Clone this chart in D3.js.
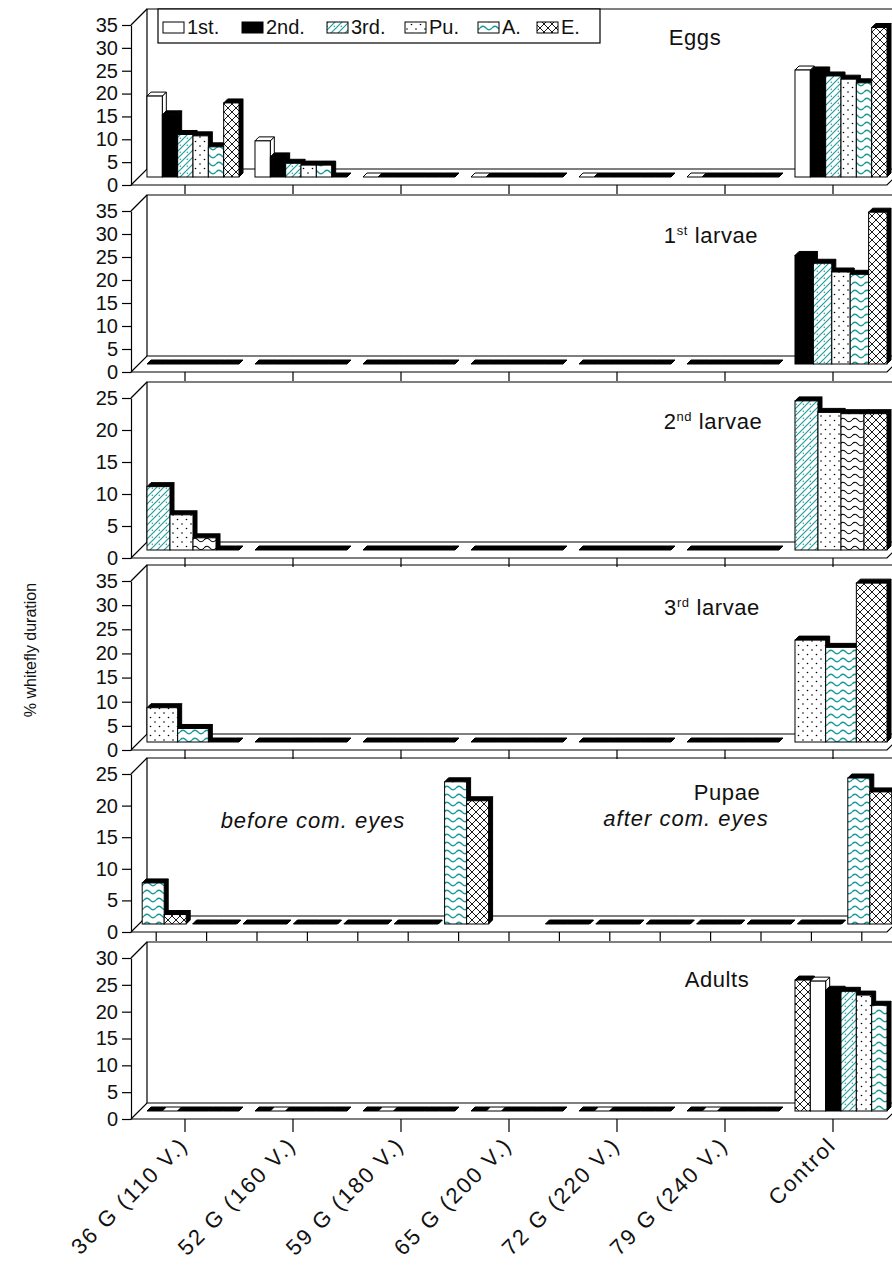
<!DOCTYPE html>
<html>
<head>
<meta charset="utf-8">
<script src="https://cdn.jsdelivr.net/npm/d3@7"></script>
<style>
  body { margin: 0; background: #fff; }
  svg { display: block; font-family: Arial, "Liberation Sans", sans-serif; }
</style>
</head>
<body>
<svg id="chart" width="892" height="1277"></svg>
<script>
// categories on the x axis
var categories = ["36 G (110 V.)", "52 G (160 V.)", "59 G (180 V.)", "65 G (200 V.)", "72 G (220 V.)", "79 G (240 V.)", "Control"];
// pupae panel: before com. eyes, an empty slot, then after com. eyes
var pupaeCategories = ["36 G (110 V.)", "52 G (160 V.)", "59 G (180 V.)", "65 G (200 V.)", "72 G (220 V.)", "79 G (240 V.)", "Control",
  "",
  "36 G (110 V.)", "52 G (160 V.)", "59 G (180 V.)", "65 G (200 V.)", "72 G (220 V.)", "79 G (240 V.)", "Control"];

var legendNames = ["1st.", "2nd.", "3rd.", "Pu.", "A.", "E."];

// Eggs -- one row per series, one value per category
var eggsSeries = ["1st.", "2nd.", "3rd.", "Pu.", "A.", "E."];
var eggsValues = [
  [17.7, 7.9, 0, 0, 0, 0, 23.4],
  [13.6, 4.4, 0, 0, 0, 0, 23.2],
  [9.3, 3.0, 0, 0, 0, 0, 22.1],
  [9.0, 2.6, 0, 0, 0, 0, 21.4],
  [6.6, 2.6, 0, 0, 0, 0, 20.6],
  [16.2, 0, 0, 0, 0, 0, 32.7]
];

// 1st larvae
var larvae1Series = ["2nd.", "3rd.", "Pu.", "A.", "E."];
var larvae1Values = [
  [0, 0, 0, 0, 0, 0, 23.6],
  [0, 0, 0, 0, 0, 0, 21.9],
  [0, 0, 0, 0, 0, 0, 20.0],
  [0, 0, 0, 0, 0, 0, 19.5],
  [0, 0, 0, 0, 0, 0, 33.0]
];

// 2nd larvae
var larvae2Series = ["3rd.", "Pu.", "A.", "E."];
var larvae2Values = [
  [9.9, 0, 0, 0, 0, 0, 23.3],
  [5.5, 0, 0, 0, 0, 0, 21.5],
  [1.9, 0, 0, 0, 0, 0, 21.3],
  [0, 0, 0, 0, 0, 0, 21.3]
];

// 3rd larvae
var larvae3Series = ["Pu.", "A.", "E."];
var larvae3Values = [
  [7.1, 0, 0, 0, 0, 0, 21.1],
  [2.8, 0, 0, 0, 0, 0, 19.6],
  [0, 0, 0, 0, 0, 0, 32.9]
];

// Pupae (null = empty slot between the two groups)
var pupaeSeries = ["A.", "E."];
var pupaeValues = [
  [6.5, 0, 0, 0, 0, 0, 22.5, null, 0, 0, 0, 0, 0, 0, 23.1],
  [1.5, 0, 0, 0, 0, 0, 19.5, null, 0, 0, 0, 0, 0, 0, 20.9]
];

// Adults
var adultsSeries = ["E.", "1st.", "2nd.", "3rd.", "Pu.", "A."];
var adultsValues = [
  [0, 0, 0, 0, 0, 0, 24.4],
  [0, 0, 0, 0, 0, 0, 24.2],
  [0, 0, 0, 0, 0, 0, 22.5],
  [0, 0, 0, 0, 0, 0, 22.3],
  [0, 0, 0, 0, 0, 0, 21.6],
  [0, 0, 0, 0, 0, 0, 19.7]
];

var ticks35 = [0, 5, 10, 15, 20, 25, 30, 35];
var ticks30 = [0, 5, 10, 15, 20, 25, 30];
var ticks25 = [0, 5, 10, 15, 20, 25];

// layout
var X0 = 131, X1 = 887;   // front edge of the floor
var DEP = 16, HD = 8;     // wall depth, bars sit half way back
var BD = 4;               // depth of a single bar
var teal = "#1a9a9a";
var FONT = "Arial, 'Liberation Sans', sans-serif";
var legendX = [163, 242, 327, 405, 478, 537];

var svg = d3.select("#chart");
var defs = svg.append("defs");

function pattern(id, w, h) {
  var p = defs.append("pattern").attr("id", id)
    .attr("patternUnits", "userSpaceOnUse").attr("width", w).attr("height", h);
  p.append("rect").attr("width", w).attr("height", h).attr("fill", "#fff");
  return p;
}
var p1 = pattern("hatch", 7, 7);
p1.append("path").attr("d", "M-1,8 L8,-1 M-1,1 L1,-1 M6,8 L8,6")
  .attr("stroke", teal).attr("stroke-width", 1.1);
p1.append("circle").attr("cx", 5.3).attr("cy", 5.3).attr("r", 0.7).attr("fill", teal);

var p2 = pattern("dots", 9, 9);
p2.append("circle").attr("cx", 2).attr("cy", 2).attr("r", 0.8).attr("fill", "#000");
p2.append("circle").attr("cx", 6.5).attr("cy", 6.5).attr("r", 0.8).attr("fill", "#000");

var p3 = pattern("wavy", 12, 8);
p3.append("path").attr("d", "M0,4 Q3,0.5 6,4 T12,4").attr("fill", "none")
  .attr("stroke", teal).attr("stroke-width", 1.3);

var p4 = pattern("wavyBlack", 12, 8);
p4.append("path").attr("d", "M0,4 Q3,0.5 6,4 T12,4").attr("fill", "none")
  .attr("stroke", "#000").attr("stroke-width", 1.1);

var p5 = pattern("cross", 8, 8);
p5.append("path").attr("d", "M0,0 L8,8 M8,0 L0,8").attr("stroke", "#000").attr("stroke-width", 0.9);

var fills = {"1st.": "#fff", "2nd.": "#000", "3rd.": "url(#hatch)", "Pu.": "url(#dots)", "A.": "url(#wavy)", "E.": "url(#cross)"};

var panels = [
  {series: eggsSeries, values: eggsValues, cats: categories, top: 25, zero: 185, max: 35, ticks: ticks35, title: ["Eggs"], tx: 695, ty: 45},
  {series: larvae1Series, values: larvae1Values, cats: categories, top: 211, zero: 372, max: 35, ticks: ticks35, title: ["1", "st", " larvae"], tx: 711, ty: 243},
  {series: larvae2Series, values: larvae2Values, cats: categories, top: 398, zero: 558, max: 25, ticks: ticks25, title: ["2", "nd", " larvae"], tx: 713, ty: 429, blackA: true},
  {series: larvae3Series, values: larvae3Values, cats: categories, top: 581, zero: 750, max: 35, ticks: ticks35, title: ["3", "rd", " larvae"], tx: 712, ty: 615},
  {series: pupaeSeries, values: pupaeValues, cats: pupaeCategories, top: 774, zero: 932, max: 25, ticks: ticks25, title: ["Pupae"], tx: 727, ty: 800},
  {series: adultsSeries, values: adultsValues, cats: categories, top: 958, zero: 1119, max: 30, ticks: ticks30, title: ["Adults"], tx: 717, ty: 987, last: true}
];

function line(g, d) {
  return g.append("path").attr("d", d).attr("fill", "none").attr("stroke", "#000").attr("stroke-width", 1.2);
}

function drawBar(g, x0, w, yTop, yBase, fill, isWhite) {
  var face = isWhite ? "#fff" : "#000";
  var x1 = x0 + w;
  g.append("path")
    .attr("d", "M" + x1 + "," + yBase + " L" + (x1 + BD) + "," + (yBase - BD) + " L" + (x1 + BD) + "," + (yTop - BD) + " L" + x1 + "," + yTop + " Z")
    .attr("fill", face).attr("stroke", "#000").attr("stroke-width", 1);
  g.append("path")
    .attr("d", "M" + x0 + "," + yTop + " L" + (x0 + BD) + "," + (yTop - BD) + " L" + (x1 + BD) + "," + (yTop - BD) + " L" + x1 + "," + yTop + " Z")
    .attr("fill", face).attr("stroke", "#000").attr("stroke-width", 1);
  if (yBase - yTop > 0.5) {
    g.append("rect").attr("x", x0).attr("y", yTop).attr("width", w).attr("height", yBase - yTop)
      .attr("fill", fill).attr("stroke", "#000").attr("stroke-width", 1);
  }
}

function drawPanel(cfg) {
  var g = svg.append("g");
  var n = cfg.cats.length;
  var pad = n > 7 ? 0.127 : 0.148;
  var xFront = d3.scaleBand().domain(d3.range(n)).range([X0, X1]);
  var xBar = d3.scaleBand().domain(d3.range(n)).range([X0 + HD, X1 + HD])
    .paddingInner(pad).paddingOuter(pad / 2);
  var xs = d3.scaleBand().domain(cfg.series).range([0, xBar.bandwidth()]);
  var y = d3.scaleLinear().domain([0, cfg.max]).range([cfg.zero, cfg.top]);
  var backTop = cfg.top - DEP, backBot = cfg.zero - DEP;

  // walls and floor
  line(g, "M" + (X0 + DEP) + "," + backBot + " V" + backTop + " H900");
  line(g, "M" + X0 + "," + cfg.top + " L" + (X0 + DEP) + "," + backTop);
  line(g, "M" + X0 + "," + cfg.zero + " L" + (X0 + DEP) + "," + backBot + " H900");
  line(g, "M" + X0 + "," + cfg.zero + " H" + X1 + " L" + (X1 + DEP) + "," + backBot);

  // bars, left to right so each front face hides the neighbour's side
  var bars = g.append("g");
  d3.range(n).forEach(function(i) {
    cfg.series.forEach(function(s, k) {
      var v = cfg.values[k][i];
      if (v === null) return;
      var fill = fills[s];
      if (s === "A." && cfg.blackA) fill = "url(#wavyBlack)";
      drawBar(bars, xBar(i) + xs(s), xs.bandwidth(), y(v) - HD, cfg.zero - HD, fill, s === "1st.");
    });
  });

  // value axis on the front left edge
  var ya = g.append("g").attr("transform", "translate(" + X0 + ",0)")
    .call(d3.axisLeft(y).tickValues(cfg.ticks).tickSize(9).tickSizeOuter(0).tickPadding(4));
  ya.select(".domain").attr("stroke", "#000").attr("stroke-width", 1.2);
  ya.selectAll(".tick line").attr("stroke", "#000").attr("stroke-width", 1.2);
  ya.selectAll("text").attr("font-size", 20).attr("font-family", FONT).attr("fill", "#111");

  // category ticks under the floor
  var xa = g.append("g").attr("transform", "translate(0," + cfg.zero + ")")
    .call(d3.axisBottom(xFront).tickSize(cfg.last ? 13 : 9).tickSizeOuter(0)
      .tickFormat(function(i) { return cfg.last ? cfg.cats[i] : ""; }));
  xa.select(".domain").remove();
  xa.selectAll(".tick line").attr("stroke", "#000").attr("stroke-width", 1.2);
  if (cfg.last) {
    xa.selectAll("text")
      .attr("x", 0).attr("y", 0).attr("dy", "0.35em")
      .attr("text-anchor", "end")
      .attr("transform", "translate(-1,22) rotate(-45)")
      .attr("font-size", 22).attr("letter-spacing", 2)
      .attr("font-family", FONT).attr("fill", "#111");
  }

  // panel title
  var t = g.append("text").attr("x", cfg.tx).attr("y", cfg.ty).attr("text-anchor", "middle")
    .attr("font-size", 22).attr("letter-spacing", 0.6).attr("fill", "#111");
  t.append("tspan").text(cfg.title[0]);
  if (cfg.title.length > 1) {
    t.append("tspan").attr("font-size", 13).attr("dy", -8).text(cfg.title[1]);
    t.append("tspan").attr("dy", 8).text(cfg.title[2]);
  }
}

panels.forEach(drawPanel);

// pupae notes
svg.append("text").attr("x", 313).attr("y", 828).attr("text-anchor", "middle")
  .attr("font-size", 22).attr("letter-spacing", 1).attr("font-style", "italic").attr("fill", "#111").text("before com. eyes");
svg.append("text").attr("x", 686).attr("y", 826).attr("text-anchor", "middle")
  .attr("font-size", 22).attr("letter-spacing", 1).attr("font-style", "italic").attr("fill", "#111").text("after com. eyes");

// y axis title
svg.append("text").attr("transform", "translate(36,650) rotate(-90)").attr("text-anchor", "middle")
  .attr("font-size", 16).attr("fill", "#111").text("% whitefly duration");

// legend
var lg = svg.append("g");
lg.append("rect").attr("x", 158).attr("y", 9).attr("width", 442).attr("height", 34)
  .attr("fill", "#fff").attr("stroke", "#000").attr("stroke-width", 1.2);
legendNames.forEach(function(name, i) {
  var lx = legendX[i];
  lg.append("rect").attr("x", lx).attr("y", 22).attr("width", 21).attr("height", 11)
    .attr("fill", fills[name]).attr("stroke", "#000").attr("stroke-width", 1);
  lg.append("text").attr("x", lx + 24).attr("y", 34).attr("font-size", 20)
    .attr("fill", "#111").text(name);
});
</script>
</body>
</html>
